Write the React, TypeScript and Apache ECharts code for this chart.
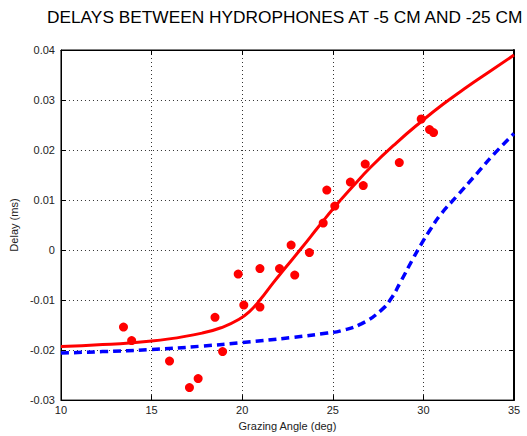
import React, { useEffect, useRef } from "react";
import * as echarts from "echarts";

const title = "DELAYS BETWEEN HYDROPHONES AT -5 CM AND -25 CM";
const xName = "Grazing Angle (deg)";
const yName = "Delay (ms)";

const measX = [13.45, 13.9, 15.99, 17.09, 17.57, 18.5, 18.92, 19.78, 20.09, 20.98, 20.98, 22.06, 22.7, 22.9, 23.71, 24.47, 24.67, 25.11, 25.97, 26.68, 26.79, 28.67, 29.88, 30.34, 30.56];
const measY = [-0.0154, -0.0181, -0.0222, -0.0275, -0.0257, -0.01345, -0.0203, -0.0048, -0.011, -0.0037, -0.0114, -0.0037, 0.001, -0.005, -0.0005, 0.0054, 0.012, 0.0088, 0.0136, 0.0129, 0.0172, 0.0175, 0.0262, 0.0241, 0.0235];

const redX = [10, 12.3, 15, 17.8, 19.0, 19.8, 20.4, 21.0, 21.7, 22.35, 23.3, 24.2, 25.1, 26.1, 27.1, 28.5, 29.85, 31.1, 32.4, 33.7, 35];
const redY = [-0.0193, -0.0189, -0.0182, -0.0166, -0.0153, -0.0139, -0.0123, -0.0099, -0.0066, -0.0037, 0.0005, 0.0046, 0.0086, 0.0127, 0.0166, 0.0214, 0.0256, 0.0292, 0.0326, 0.0358, 0.039];

const blueX = [10, 12.3, 15, 17.8, 20, 22.7, 24.7, 25.5, 26.6, 27.65, 28.2, 28.75, 29.4, 29.85, 30.4, 30.95, 31.85, 32.95, 33.9, 35];
const blueY = [-0.0206, -0.0203, -0.0199, -0.0192, -0.0185, -0.0175, -0.0166, -0.0161, -0.0147, -0.0121, -0.0098, -0.0063, -0.0019, 0.001, 0.0042, 0.0071, 0.0108, 0.0153, 0.0192, 0.0233];

const zip = (xs: number[], ys: number[]) => xs.map((x, i) => [x, ys[i]]);

export default function App() {
  const ref = useRef<HTMLDivElement>(null);
  useEffect(() => {
    if (!ref.current) return;
    const chart = echarts.init(ref.current, undefined, { renderer: "svg" });
    const font = "Liberation Sans, Arial, Helvetica, sans-serif";
    const split = { show: true, lineStyle: { color: "#333", type: [1, 3] as any, width: 1 } };
    chart.setOption({
      animation: false,
      backgroundColor: "#fff",
      title: {
        text: title,
        left: 47,
        top: 8,
        padding: 0,
        textStyle: { fontFamily: font, fontSize: 17.3, fontWeight: "normal", color: "#000" },
      },
      grid: { left: 58, right: 13, top: 50, bottom: 27, show: true, borderColor: "#000", borderWidth: 1 },
      xAxis: [
        {
          type: "value", min: 10, max: 35, interval: 5, position: "bottom",
          name: xName, nameLocation: "middle", nameGap: 15,
          nameTextStyle: { fontFamily: font, fontSize: 11, color: "#222" },
          axisLine: { show: true, onZero: false, lineStyle: { color: "#000" } },
          axisTick: { inside: true, length: 5, lineStyle: { color: "#000" } },
          axisLabel: { fontFamily: font, fontSize: 11, color: "#222", margin: 4 },
          splitLine: split,
        },
        {
          type: "value", min: 10, max: 35, interval: 5, position: "top",
          axisLine: { show: true, onZero: false, lineStyle: { color: "#000" } },
          axisTick: { inside: true, length: 5, lineStyle: { color: "#000" } },
          axisLabel: { show: false }, splitLine: { show: false },
        },
      ],
      yAxis: [
        {
          type: "value", min: -0.03, max: 0.04, interval: 0.01, position: "left",
          name: yName, nameLocation: "middle", nameGap: 34, nameRotate: 90,
          nameTextStyle: { fontFamily: font, fontSize: 11, color: "#222" },
          axisLine: { show: true, onZero: false, lineStyle: { color: "#000" } },
          axisTick: { inside: true, length: 5, lineStyle: { color: "#000" } },
          axisLabel: { fontFamily: font, fontSize: 11, color: "#222", margin: 6, formatter: (v: number) => String(+v.toFixed(2)) },
          splitLine: split,
        },
        {
          type: "value", min: -0.03, max: 0.04, interval: 0.01, position: "right",
          axisLine: { show: true, onZero: false, lineStyle: { color: "#000", width: 2 } },
          axisTick: { inside: true, length: 5, lineStyle: { color: "#000" } },
          axisLabel: { show: false }, splitLine: { show: false },
        },
      ],
      series: [
        {
          type: "line", data: zip(blueX, blueY), smooth: 0.5, showSymbol: false,
          lineStyle: { color: "#0000ff", width: 3.5, type: [8, 5] as any },
          clip: true,
        },
        {
          type: "line", data: zip(redX, redY), smooth: 0.5, showSymbol: false,
          lineStyle: { color: "#ff0000", width: 3 },
          clip: true,
        },
        {
          type: "scatter", data: zip(measX, measY), symbol: "circle", symbolSize: 9,
          itemStyle: { color: "#ff0000", opacity: 1 },
        },
      ],
    });
    return () => chart.dispose();
  }, []);
  return <div ref={ref} style={{ position: "fixed", left: 0, top: 0, width: 527, height: 436 }} />;
}
